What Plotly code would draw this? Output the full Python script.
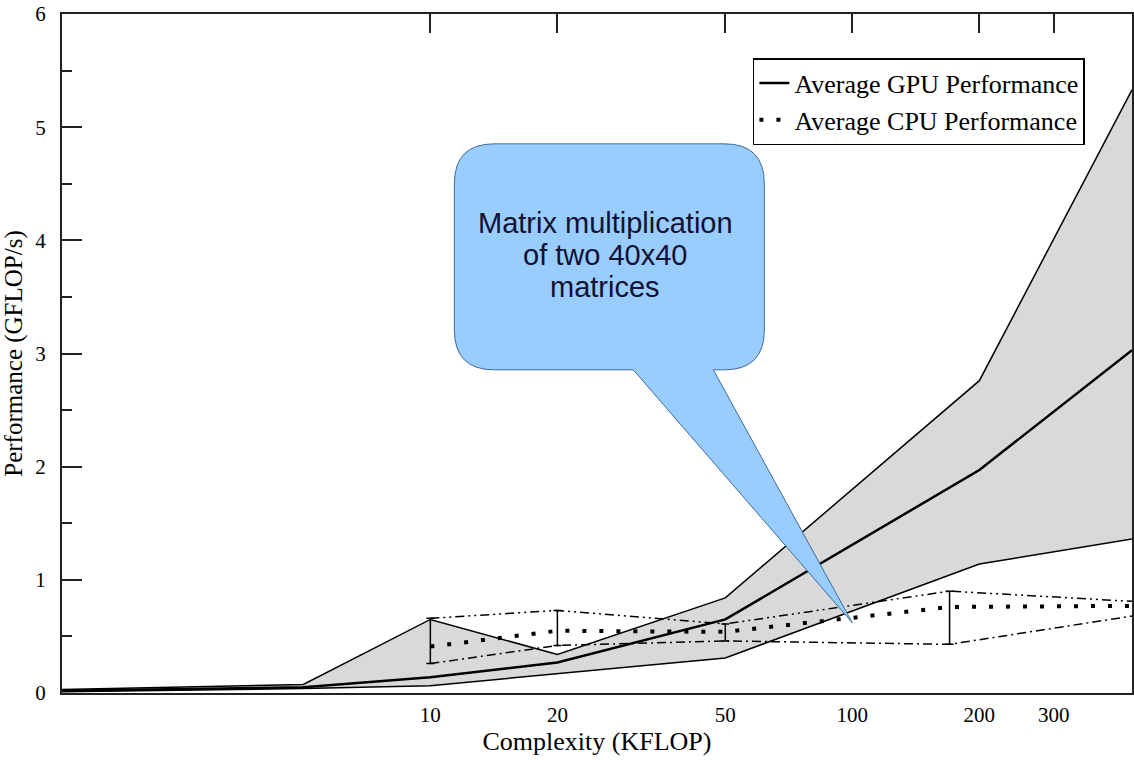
import numpy as np
import plotly.graph_objects as go

# ---- data ----
gpu_x = [1.34, 5, 10, 20, 50, 200, 460]
gpu_max = [0.03, 0.075, 0.65, 0.34, 0.84, 2.76, 5.33]
gpu_avg = [0.02, 0.05, 0.14, 0.27, 0.65, 1.97, 3.03]
gpu_min = [0.01, 0.04, 0.065, 0.17, 0.31, 1.14, 1.36]

cpu_x = [10, 20, 50, 170, 460]
cpu_max = [0.66, 0.73, 0.61, 0.90, 0.81]
cpu_avg = [0.41, 0.55, 0.54, 0.76, 0.77]
cpu_min = [0.26, 0.42, 0.46, 0.43, 0.68]
cpu_bar_count = 4  # error bars drawn at the first four CPU points

x_ticks = [10, 20, 50, 100, 200, 300]
y_ticks = [0, 1, 2, 3, 4, 5, 6]

callout_x, callout_y = 100, 0.62
callout_lines = ["Matrix multiplication", "of two 40x40", "matrices"]

SERIF = "Liberation Serif, Times New Roman, serif"
SANS = "Liberation Sans, Arial, sans-serif"

fig = go.Figure()

# GPU band
fig.add_trace(go.Scatter(x=gpu_x, y=gpu_max, mode="lines",
                         line=dict(color="black", width=1.5),
                         showlegend=False, hoverinfo="skip"))
fig.add_trace(go.Scatter(x=gpu_x, y=gpu_min, mode="lines", fill="tonexty",
                         fillcolor="#d9d9d9",
                         line=dict(color="black", width=1.5),
                         showlegend=False, hoverinfo="skip"))
fig.add_trace(go.Scatter(x=gpu_x, y=gpu_avg, mode="lines",
                         name="Average GPU Performance",
                         line=dict(color="black", width=2.5)))

# CPU range
fig.add_trace(go.Scatter(x=cpu_x, y=cpu_max, mode="lines",
                         line=dict(color="black", width=1.5,
                                   dash="9px,4px,2px,4px,2px,4px"),
                         showlegend=False, hoverinfo="skip"))
fig.add_trace(go.Scatter(x=cpu_x, y=cpu_min, mode="lines",
                         line=dict(color="black", width=1.5,
                                   dash="9px,4px,2px,4px"),
                         showlegend=False, hoverinfo="skip"))

err_plus = [cpu_max[i] - cpu_avg[i] for i in range(cpu_bar_count)]
err_minus = [cpu_avg[i] - cpu_min[i] for i in range(cpu_bar_count)]
fig.add_trace(go.Scatter(x=cpu_x[:cpu_bar_count], y=cpu_avg[:cpu_bar_count],
                         mode="markers", marker=dict(size=1, opacity=0),
                         error_y=dict(type="data", symmetric=False,
                                      array=err_plus, arrayminus=err_minus,
                                      color="black", thickness=1.5, width=4),
                         showlegend=False, hoverinfo="skip"))

fig.add_trace(go.Scatter(x=cpu_x, y=cpu_avg, mode="lines",
                         name="Average CPU Performance",
                         line=dict(color="black", width=4, dash="4px,13px")))

# invisible trace to host the top (mirror) tick axis
fig.add_trace(go.Scatter(x=gpu_x, y=gpu_avg, mode="lines", xaxis="x2",
                         line=dict(width=0), opacity=0,
                         showlegend=False, hoverinfo="skip"))

xr = [np.log10(gpu_x[0]), np.log10(gpu_x[-1])]

# callout (speech bubble) anchored at its tip, sized in pixels
bl, br, bb, bt, r = -398, -88, 253, 479, 40
tl, tr = -219, -139
path = (f"M {tr},{bb} L 0,0 L {tl},{bb} L {bl + r},{bb} "
        f"Q {bl},{bb} {bl},{bb + r} L {bl},{bt - r} "
        f"Q {bl},{bt} {bl + r},{bt} L {br - r},{bt} "
        f"Q {br},{bt} {br},{bt - r} L {br},{bb + r} "
        f"Q {br},{bb} {br - r},{bb} Z")

text_annos = [dict(x=np.log10(callout_x), y=callout_y, xref="x", yref="y",
                   xshift=-247, yshift=400 - 32 * i, showarrow=False,
                   text=line, align="center",
                   font=dict(family=SANS, size=29, color="#111133"))
              for i, line in enumerate(callout_lines)]

fig.update_layout(
    width=1134, height=760,
    margin=dict(l=62, r=2, t=14, b=67, autoexpand=False),
    paper_bgcolor="white", plot_bgcolor="white",
    font=dict(family=SERIF, color="black", size=21),
    xaxis=dict(type="log", range=xr, tickvals=x_ticks,
               ticktext=[str(v) for v in x_ticks],
               ticks="", showgrid=False, zeroline=False,
               showline=True, linecolor="#222", linewidth=2, mirror=True,
               tickfont=dict(family=SERIF, size=21, color="black"),
               ticklabelstandoff=2,
               title=dict(text="Complexity (KFLOP)",
                          font=dict(family=SERIF, size=26, color="black"),
                          standoff=0)),
    xaxis2=dict(type="log", range=xr, overlaying="x", side="top",
                tickvals=x_ticks, ticks="inside", ticklen=19,
                tickwidth=1.5, tickcolor="#222",
                showticklabels=False, showgrid=False, zeroline=False,
                showline=False),
    yaxis=dict(range=[0, 6], tickvals=y_ticks, ticks="inside", ticklen=20,
               tickwidth=1.5, tickcolor="#222",
               minor=dict(dtick=0.5, ticks="inside", ticklen=10,
                          tickwidth=1.5, tickcolor="#222", showgrid=False),
               showgrid=False, zeroline=False,
               showline=True, linecolor="#222", linewidth=2, mirror=True,
               tickfont=dict(family=SERIF, size=21, color="black"),
               ticklabelstandoff=10,
               title=dict(text="Performance (GFLOP/s)",
                          font=dict(family=SERIF, size=25, color="black"),
                          standoff=6)),
    legend=dict(x=0.956, xanchor="right", y=0.935, yanchor="top",
                bgcolor="white", bordercolor="black", borderwidth=1.5,
                font=dict(family=SERIF, size=26, color="black"),
                traceorder="normal", tracegroupgap=0),
    shapes=[dict(type="path", xref="x", yref="y",
                 xsizemode="pixel", ysizemode="pixel",
                 xanchor=callout_x, yanchor=callout_y, path=path,
                 fillcolor="#99ccff", line=dict(color="#3d6a9a", width=1),
                 layer="above")],
    annotations=text_annos,
)

fig.write_html("out.html",
               config={"displayModeBar": False},
               post_script="document.body.style.margin='0px';"
                           "document.body.style.overflow='hidden';")
